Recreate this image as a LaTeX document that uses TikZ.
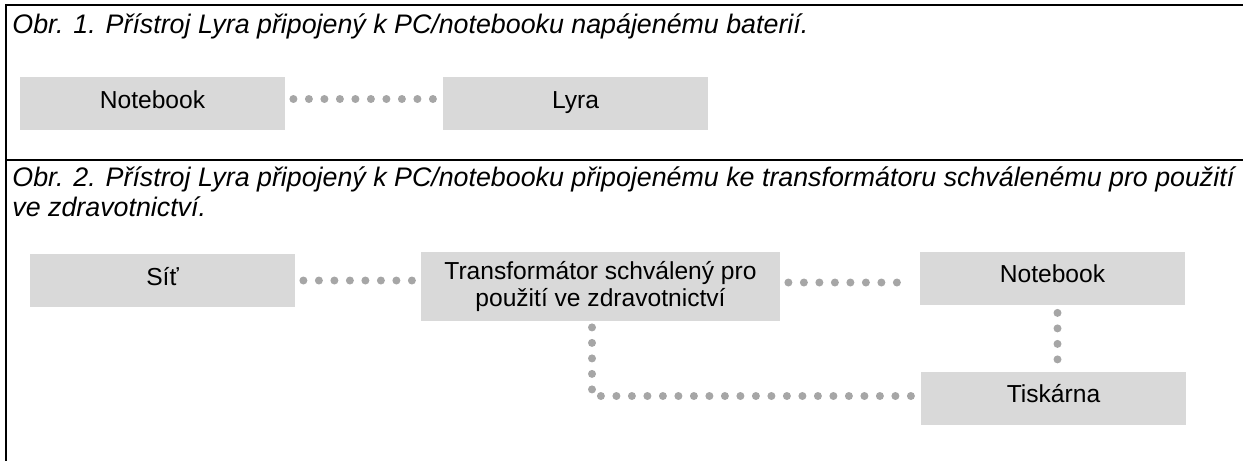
\documentclass[tikz,border=0pt]{standalone}
\usepackage{fontspec}
\setmainfont{Liberation Sans}
\usetikzlibrary{calc}
\definecolor{boxgray}{HTML}{D9D9D9}
\definecolor{dotgray}{HTML}{A6A6A6}
\begin{document}
\begin{tikzpicture}[x=0.5pt,y=-0.5pt,
  frame/.style={line width=1pt, draw=black},
  box/.style={fill=boxgray, inner sep=0pt, minimum width=132.5pt, minimum height=26.5pt, font=\fontsize{12.3pt}{13.5pt}\selectfont, text height=9pt, text depth=4.3pt},
  bigbox/.style={fill=boxgray, inner sep=0pt, minimum width=179.5pt, minimum height=34.5pt, align=center, font=\fontsize{12.3pt}{13.5pt}\selectfont},
  caption/.style={anchor=base west, inner sep=0pt, font=\fontsize{13.4pt}{15pt}\selectfont\itshape},
  dotline/.style={draw=dotgray, line width=4pt, line cap=round, dash pattern=on 0pt off 7.75pt, shorten <=4pt, shorten >=4pt}
]
\useasboundingbox (0,0) rectangle (1243,461);
% frame lines
\draw[frame] (5,5) -- (1243,5);
\draw[frame] (6,4) -- (6,461);
\draw[frame] (6,160) -- (1243,160);
% captions
\node[caption] (cap1) at (12,33) {Obr. 1. Přístroj Lyra připojený k PC/notebooku napájenému baterií.};
\node[caption] (cap2a) at (12,186) {Obr. 2. Přístroj Lyra připojený k PC/notebooku připojenému ke transformátoru schválenému pro použití};
\node[caption] (cap2b) at (12,216) {ve zdravotnictví.};
% figure 1
\node[box] (nb1) at (152.5,103.5) {Notebook};
\node[box] (lyra) at (575.5,103.5) {Lyra};
\coordinate (nb1e) at ($(nb1.east)+(0,-4.5)$);
\draw[dotline] (nb1e) -- (nb1e -| lyra.west);
% figure 2
\node[box] (sit) at (162.5,280.5) {Síť};
\node[bigbox] (trans) at (600.5,286.5) {Transformátor schválený pro\\použití ve zdravotnictví};
\node[box] (nb2) at (1052.5,278) {Notebook};
\node[box] (tisk) at (1053.5,398) {Tiskárna};
\draw[dotline] (sit.east) -- (sit.east -| trans.west);
\coordinate (nb2w) at ($(nb2.west)+(0,4.5)$);
\draw[dotline] (nb2w -| trans.east) -- (nb2w);
\coordinate (nb2s) at ($(nb2.south)+(5,0)$);
\draw[dotline] (nb2s) -- (nb2s |- tisk.north);
\coordinate (transs) at ($(trans.south)+(-8.5,0)$);
\coordinate (tiskw) at ($(tisk.west)+(0,-2)$);
\draw[dotline, shorten <=3pt] (transs) |- (tiskw);
\end{tikzpicture}
\end{document}
